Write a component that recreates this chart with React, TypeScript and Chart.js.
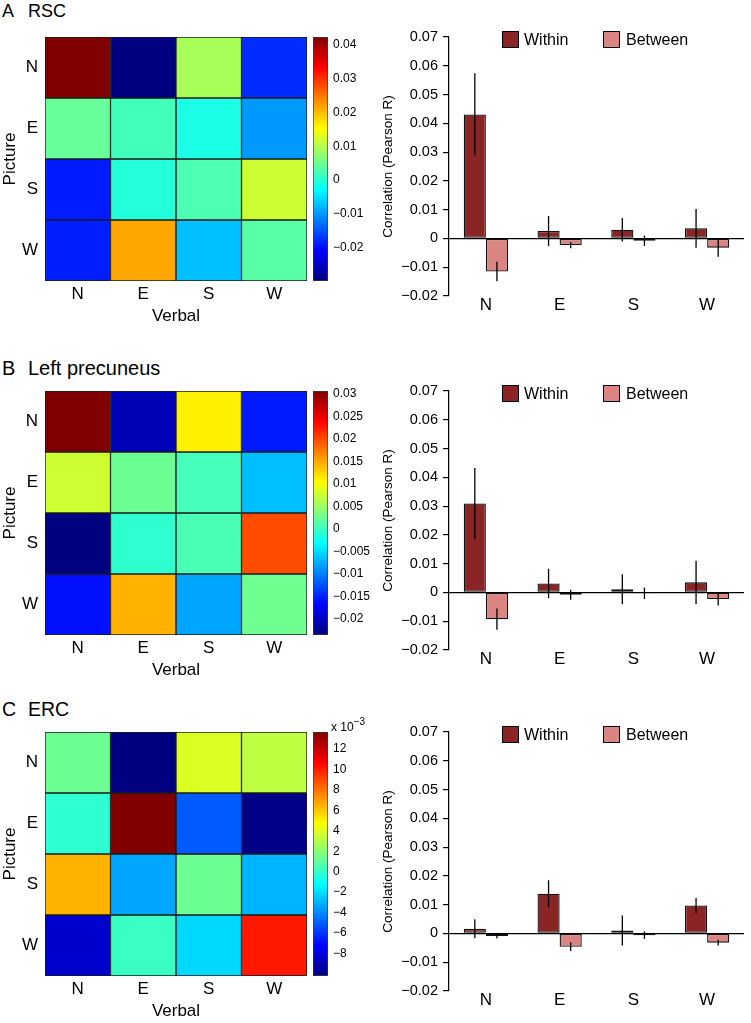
import React, { useEffect, useRef } from 'react';
import { Chart, registerables } from 'chart.js';

Chart.register(...registerables);
Chart.defaults.font.family = '"Liberation Sans", Arial, Helvetica, sans-serif';
Chart.defaults.color = '#000';

// ---------- data ----------
const directions = ['N', 'E', 'S', 'W'];

// heatmaps: rows = Picture (N,E,S,W), columns = Verbal (N,E,S,W)
const rscMatrix = [
  [0.0424, -0.03, 0.0091, -0.0178],
  [0.0044, 0.0019, -0.001, -0.01],
  [-0.019, -0.0003, 0.0026, 0.0116],
  [-0.0188, 0.0216, -0.0074, 0.0035],
];
const precuneusMatrix = [
  [0.0306, -0.0206, 0.011, -0.0155],
  [0.0076, 0.0024, 0.0004, -0.0067],
  [-0.0236, -0.0008, 0.0006, 0.0198],
  [-0.016, 0.0143, -0.008, 0.0026],
];
const ercMatrix = [
  [0.00125, -0.0102, 0.0039, 0.0032],
  [-0.0002, 0.01366, -0.0051, -0.01],
  [0.0065, -0.00334, 0.00125, -0.003],
  [-0.0084, 0.0001, -0.00215, 0.0101],
];

const rscColorTicks = [-0.02, -0.01, 0, 0.01, 0.02, 0.03, 0.04];
const precuneusColorTicks = [-0.02, -0.015, -0.01, -0.005, 0, 0.005, 0.01, 0.015, 0.02, 0.025, 0.03];
const ercColorTicks = [-0.008, -0.006, -0.004, -0.002, 0, 0.002, 0.004, 0.006, 0.008, 0.01, 0.012];

// bar charts
const barTicks = [-0.02, -0.01, 0, 0.01, 0.02, 0.03, 0.04, 0.05, 0.06, 0.07];

const rscWithin = [0.0431, 0.0026, 0.003, 0.0035];
const rscWithinErr = [0.0143, 0.0052, 0.0041, 0.0067];
const rscBetween = [-0.0115, -0.0023, -0.0008, -0.0032];
const rscBetweenErr = [0.0034, 0.0011, 0.0018, 0.0032];

const precuneusWithin = [0.0309, 0.0031, 0.0011, 0.0035];
const precuneusWithinErr = [0.0123, 0.0051, 0.0052, 0.0075];
const precuneusBetween = [-0.0093, -0.0008, -0.0003, -0.0023];
const precuneusBetweenErr = [0.0037, 0.0017, 0.002, 0.0022];

const ercWithin = [0.0016, 0.0138, 0.001, 0.0097];
const ercWithinErr = [0.0033, 0.0047, 0.0052, 0.0026];
const ercBetween = [-0.0009, -0.0046, -0.0006, -0.0032];
const ercBetweenErr = [0.0009, 0.0015, 0.0013, 0.001];

const WITHIN_COLOR = '#8B2424';
const BETWEEN_COLOR = '#DA8582';
const FONT = '"Liberation Sans", Arial, Helvetica, sans-serif';

// ---------- helpers ----------
function jet(t: number): string {
  const tt = Math.max(0, Math.min(1, t));
  const c = (x: number) => Math.round(255 * Math.max(0, Math.min(1, x)));
  return `rgb(${c(1.5 - Math.abs(4 * tt - 3))},${c(1.5 - Math.abs(4 * tt - 2))},${c(1.5 - Math.abs(4 * tt - 1))})`;
}
const jetStops = [0, 0.125, 0.375, 0.625, 0.875, 1];

function fmt(v: number, scale = 1): string {
  const x = Math.round((v / scale) * 100000) / 100000;
  if (x === 0) return '0';
  return (x < 0 ? '\u2212' : '') + String(Math.abs(x));
}

const errorBarPlugin = {
  id: 'errorBars',
  afterDatasetsDraw(chart: any) {
    const { ctx } = chart;
    const y = chart.scales.y;
    chart.data.datasets.forEach((ds: any, di: number) => {
      const errs = ds.errors as number[] | undefined;
      if (!errs) return;
      const meta = chart.getDatasetMeta(di);
      meta.data.forEach((bar: any, i: number) => {
        const v = ds.data[i] as number;
        const e = errs[i];
        ctx.save();
        ctx.strokeStyle = '#000';
        ctx.lineWidth = 1.3;
        ctx.beginPath();
        ctx.moveTo(bar.x, y.getPixelForValue(v - e));
        ctx.lineTo(bar.x, y.getPixelForValue(v + e));
        ctx.stroke();
        ctx.restore();
      });
    });
  },
};

function ChartCanvas({ left, top, width, height, makeConfig }: any) {
  const ref = useRef<HTMLCanvasElement>(null);
  useEffect(() => {
    const chart = new Chart(ref.current as HTMLCanvasElement, makeConfig());
    return () => chart.destroy();
  }, []);
  return (
    <div style={{ position: 'absolute', left, top, width, height }}>
      <canvas ref={ref} width={width} height={height} style={{ width, height, display: 'block' }} />
    </div>
  );
}

const CANVAS_H = 328;
const AREA_TOP = 37;
const HEAT_BOTTOM = 281;
const BAR_BOTTOM = 296;

function heatmapConfig(matrix: number[][]) {
  const flat = matrix.flat();
  const min = Math.min(...flat);
  const max = Math.max(...flat);
  return {
    type: 'bar',
    data: {
      labels: directions,
      datasets: directions.map((p, i) => ({
        label: p,
        data: directions.map(() => 1),
        backgroundColor: matrix[i].map((v) => jet((v - min) / (max - min))),
        borderColor: '#1a1a1a',
        borderWidth: 1,
        borderSkipped: false,
        barPercentage: 1,
        categoryPercentage: 1,
      })),
    },
    options: {
      animation: false,
      responsive: false,
      events: [],
      layout: { padding: { top: AREA_TOP, right: 3, left: 0, bottom: 0 } },
      plugins: { legend: { display: false }, tooltip: { enabled: false } },
      scales: {
        x: {
          stacked: true,
          grid: { display: false, drawTicks: false },
          border: { display: false },
          ticks: { font: { size: 17 }, padding: 3, color: '#000' },
          title: { display: true, text: 'Verbal', font: { size: 17 }, padding: { top: 0, bottom: 1 }, color: '#000' },
          afterFit: (s: any) => { s.height = CANVAS_H - HEAT_BOTTOM; },
        },
        y: {
          type: 'linear',
          stacked: true,
          reverse: true,
          min: 0,
          max: 4,
          grid: { display: false, drawTicks: false },
          border: { display: false },
          afterBuildTicks: (s: any) => { s.ticks = directions.map((_, i) => ({ value: i + 0.5 })); },
          ticks: {
            font: { size: 17 },
            padding: 7,
            color: '#000',
            callback: (v: any) => directions[Math.floor(Number(v))],
          },
          title: { display: true, text: 'Picture', font: { size: 17 }, padding: { top: 0, bottom: 0 }, color: '#000' },
          afterFit: (s: any) => { s.width = 45; },
        },
      },
    },
  };
}

function colorbarConfig(matrix: number[][], ticks: number[], scale: number) {
  const flat = matrix.flat();
  const min = Math.min(...flat);
  const max = Math.max(...flat);
  return {
    type: 'bar',
    data: {
      labels: [''],
      datasets: [
        {
          data: [[min, max]],
          backgroundColor: (ctx: any) => {
            const chart = ctx.chart;
            if (!chart.chartArea) return 'rgba(0,0,0,0)';
            const y = chart.scales.y;
            const g = chart.ctx.createLinearGradient(0, y.getPixelForValue(min), 0, y.getPixelForValue(max));
            jetStops.forEach((s) => g.addColorStop(s, jet(s)));
            return g;
          },
          borderColor: '#3a3a3a',
          borderWidth: 1,
          borderSkipped: false,
          barPercentage: 1,
          categoryPercentage: 1,
        },
      ],
    },
    options: {
      animation: false,
      responsive: false,
      events: [],
      layout: { padding: { top: AREA_TOP, left: 5, right: 0, bottom: CANVAS_H - HEAT_BOTTOM } },
      plugins: { legend: { display: false }, tooltip: { enabled: false } },
      scales: {
        x: { display: false },
        y: {
          position: 'right',
          min,
          max,
          grid: { display: false, drawTicks: false },
          border: { display: false },
          afterBuildTicks: (s: any) => { s.ticks = ticks.map((v) => ({ value: v })); },
          ticks: { font: { size: 12 }, padding: 5, color: '#000', callback: (v: any) => fmt(Number(v), scale) },
          afterFit: (s: any) => { s.width = 44; },
        },
      },
    },
  };
}

function barConfig(within: number[], withinErr: number[], between: number[], betweenErr: number[]) {
  return {
    type: 'bar',
    data: {
      labels: directions,
      datasets: [
        { label: 'Within', data: within, errors: withinErr, backgroundColor: WITHIN_COLOR, borderColor: '#111', borderWidth: 1.3 },
        { label: 'Between', data: between, errors: betweenErr, backgroundColor: BETWEEN_COLOR, borderColor: '#111', borderWidth: 1.3 },
      ],
    },
    plugins: [errorBarPlugin],
    options: {
      animation: false,
      responsive: false,
      events: [],
      datasets: { bar: { categoryPercentage: 0.6, barPercentage: 1, borderSkipped: false, inflateAmount: 0 } },
      layout: { padding: { top: AREA_TOP, right: 7, left: 0, bottom: 0 } },
      plugins: { legend: { display: false }, tooltip: { enabled: false } },
      scales: {
        x: {
          grid: { display: false, drawTicks: false },
          border: { display: false },
          ticks: { font: { size: 17 }, padding: -1, color: '#000' },
          afterFit: (s: any) => { s.height = CANVAS_H - BAR_BOTTOM; },
        },
        y: {
          min: -0.02,
          max: 0.07,
          afterBuildTicks: (s: any) => { s.ticks = barTicks.map((v) => ({ value: v })); },
          grid: {
            color: (ctx: any) => (ctx.tick && Math.abs(ctx.tick.value) < 1e-9 ? '#000' : 'rgba(0,0,0,0)'),
            tickColor: '#000',
            tickLength: 6,
            lineWidth: 1.2,
          },
          border: { display: true, color: '#000', width: 1.2 },
          ticks: { font: { size: 14.5 }, padding: 5, color: '#000', callback: (v: any) => fmt(Number(v)) },
          title: {
            display: true,
            text: 'Correlation (Pearson R)',
            font: { size: 13.5 },
            padding: { top: 8, bottom: 0 },
            color: '#000',
          },
          afterFit: (s: any) => { s.width = 77; },
        },
      },
    },
  };
}

function Legend({ top }: { top: number }) {
  const sw = (color: string): React.CSSProperties => ({
    position: 'absolute',
    width: 17,
    height: 17,
    boxSizing: 'border-box',
    border: '1px solid #000',
    background: color,
    top: 0,
  });
  const txt: React.CSSProperties = { position: 'absolute', top: 0, fontSize: 16, lineHeight: '17px', fontFamily: FONT, color: '#000' };
  return (
    <div style={{ position: 'absolute', left: 0, top, width: 751, height: 17 }}>
      <div style={{ ...sw(WITHIN_COLOR), left: 502 }} />
      <div style={{ ...txt, left: 524 }}>Within</div>
      <div style={{ ...sw(BETWEEN_COLOR), left: 603 }} />
      <div style={{ ...txt, left: 626 }}>Between</div>
    </div>
  );
}

function Title({ letter, name, baseline, size }: any) {
  const top = baseline - 0.8465 * size;
  const st: React.CSSProperties = { position: 'absolute', top, fontSize: size, lineHeight: 1, fontFamily: FONT, color: '#000', whiteSpace: 'nowrap' };
  return (
    <>
      <div style={{ ...st, left: 2 }}>{letter}</div>
      <div style={{ ...st, left: 28 }}>{name}</div>
    </>
  );
}

const panels = [
  { letter: 'A', name: 'RSC', top: 0, titleBaseline: 17.5, titleSize: 18, matrix: rscMatrix, cbTicks: rscColorTicks, cbScale: 1, w: rscWithin, we: rscWithinErr, b: rscBetween, be: rscBetweenErr },
  { letter: 'B', name: 'Left precuneus', top: 354, titleBaseline: 375, titleSize: 20, matrix: precuneusMatrix, cbTicks: precuneusColorTicks, cbScale: 1, w: precuneusWithin, we: precuneusWithinErr, b: precuneusBetween, be: precuneusBetweenErr },
  { letter: 'C', name: 'ERC', top: 695, titleBaseline: 716.5, titleSize: 19.5, matrix: ercMatrix, cbTicks: ercColorTicks, cbScale: 0.001, w: ercWithin, we: ercWithinErr, b: ercBetween, be: ercBetweenErr },
];

export default function App() {
  useEffect(() => {
    document.body.style.margin = '0';
    document.body.style.overflow = 'hidden';
  }, []);
  return (
    <div style={{ position: 'absolute', left: 0, top: 0, width: 751, height: 1023, overflow: 'hidden', background: '#fff' }}>
      {panels.map((p) => (
        <React.Fragment key={p.letter}>
          <Title letter={p.letter} name={p.name} baseline={p.titleBaseline} size={p.titleSize} />
          <ChartCanvas left={0} top={p.top} width={310} height={CANVAS_H} makeConfig={() => heatmapConfig(p.matrix)} />
          <ChartCanvas left={308} top={p.top} width={64} height={CANVAS_H} makeConfig={() => colorbarConfig(p.matrix, p.cbTicks, p.cbScale)} />
          <ChartCanvas left={372} top={p.top} width={379} height={CANVAS_H} makeConfig={() => barConfig(p.w, p.we, p.b, p.be)} />
          <Legend top={p.top + 31} />
          {p.cbScale !== 1 && (
            <div style={{ position: 'absolute', left: 331, top: p.top + 25, fontSize: 12, lineHeight: '14px', fontFamily: FONT, color: '#000', whiteSpace: 'nowrap' }}>
              x 10<sup style={{ fontSize: 10, verticalAlign: 'top', position: 'relative', top: -5 }}>−3</sup>
            </div>
          )}
        </React.Fragment>
      ))}
    </div>
  );
}
